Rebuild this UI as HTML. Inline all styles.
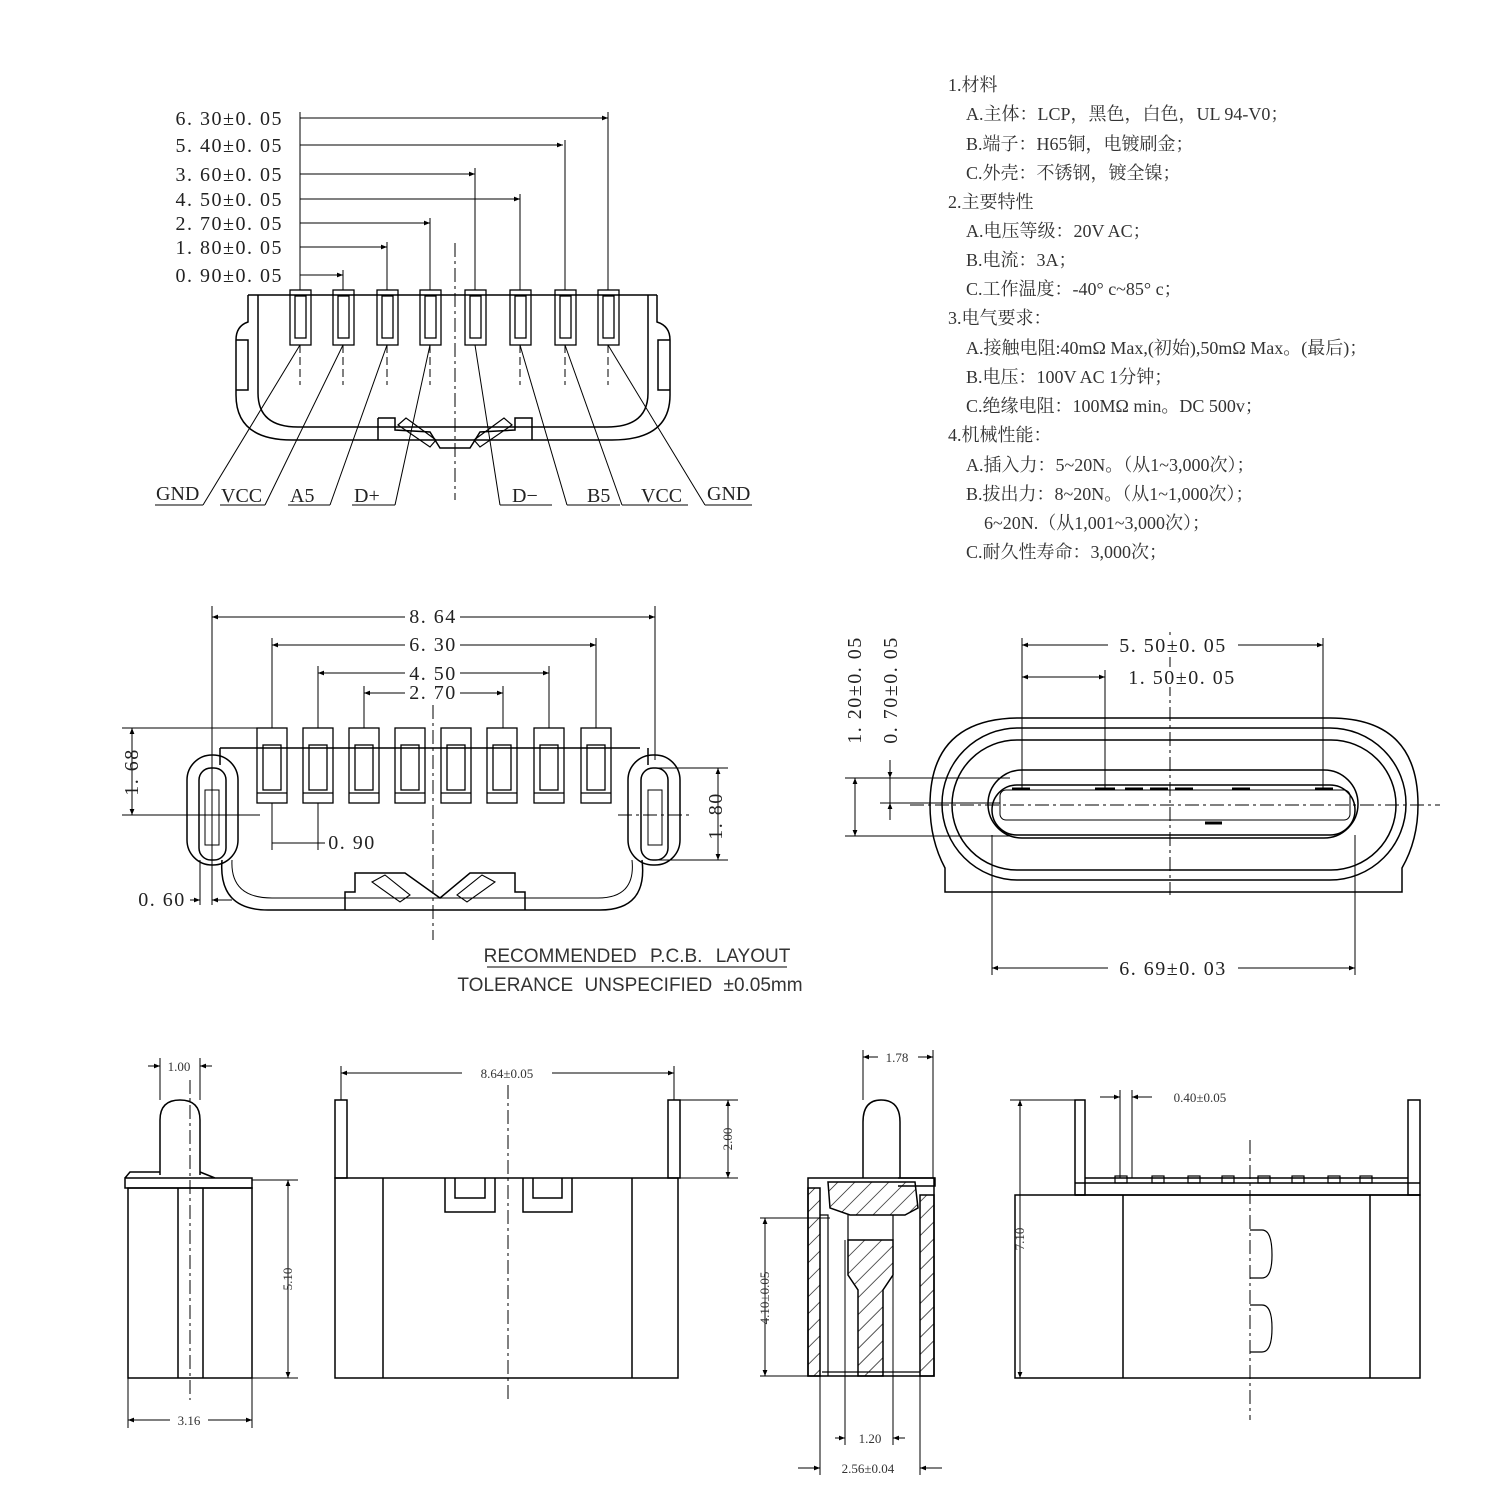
<!DOCTYPE html>
<html><head><meta charset="utf-8"><style>
body{margin:0;background:#fff}
svg{display:block}
.t{font-family:"Liberation Serif","Noto Serif CJK SC",serif;font-size:20px;fill:#222;letter-spacing:1.5px}
.g{font-family:"Liberation Serif",serif;font-size:20px;fill:#222}
.s{font-family:"Liberation Sans","Noto Sans CJK SC",sans-serif}
.cn{font-family:"Liberation Serif","Noto Serif CJK SC",serif;font-size:18px;fill:#333}
.sm{font-family:"Liberation Serif",serif;font-size:13px;fill:#333}
</style></head><body>
<svg width="1500" height="1500" viewBox="0 0 1500 1500" xmlns="http://www.w3.org/2000/svg">
<defs>
<marker id="a" viewBox="0 0 10 10" refX="10" refY="5" markerWidth="9" markerHeight="6" orient="auto-start-reverse"><path d="M0,1 L10,5 L0,9 z" fill="#000"/></marker>
<pattern id="h" width="12" height="12" patternUnits="userSpaceOnUse" patternTransform="rotate(45)"><line x1="0" y1="0" x2="0" y2="12" stroke="#000" stroke-width="1.3"/></pattern>
</defs>
<g fill="none" stroke="#000" stroke-width="1.5">
<!-- TOP LEFT -->
<g stroke-width="1">
<line x1="300" y1="112" x2="300" y2="290"/>
<line x1="300" y1="118" x2="608" y2="118" marker-end="url(#a)"/><line x1="608" y1="112" x2="608" y2="290"/>
<line x1="300" y1="145" x2="563" y2="145" marker-end="url(#a)"/><line x1="565" y1="140" x2="565" y2="290"/>
<line x1="300" y1="174" x2="475" y2="174" marker-end="url(#a)"/><line x1="475" y1="168" x2="475" y2="290"/>
<line x1="300" y1="199" x2="520" y2="199" marker-end="url(#a)"/><line x1="520" y1="194" x2="520" y2="290"/>
<line x1="300" y1="223" x2="430" y2="223" marker-end="url(#a)"/><line x1="430" y1="218" x2="430" y2="290"/>
<line x1="300" y1="247" x2="387" y2="247" marker-end="url(#a)"/><line x1="387" y1="242" x2="387" y2="290"/>
<line x1="300" y1="275" x2="343" y2="275" marker-end="url(#a)"/><line x1="343" y1="270" x2="343" y2="290"/>
<line x1="455" y1="243" x2="455" y2="500" stroke-dasharray="14,4,3,4"/>
</g>
<line x1="248" y1="295" x2="657" y2="295"/>
<path d="M248,295 L248,322 Q236,326 236,340 L236,395 Q236,440 292,440 L612,440 Q670,440 670,395 L670,340 Q670,326 657,322 L657,295"/>
<path d="M258,295 L258,393 Q258,427 298,427 L607,427 Q648,427 648,393 L648,295"/>
<path d="M236,340 L248,340 L248,390 L236,390 M670,340 L658,340 L658,390 L670,390"/>
<path d="M378,418 L378,440 M378,418 L395,418 L395,430 L430,432 L440,448 L470,448 L480,432 L515,430 L515,418 L532,418 L532,440"/>
<path d="M398,425 L406,418 L436,440 L430,447 z M512,425 L504,418 L474,440 L480,447 z" stroke-width="1.2"/>
<g stroke-width="1.3">
<rect x="290" y="290" width="21" height="55"/><rect x="295" y="296" width="11" height="42"/>
<rect x="333" y="290" width="21" height="55"/><rect x="338" y="296" width="11" height="42"/>
<rect x="377" y="290" width="21" height="55"/><rect x="382" y="296" width="11" height="42"/>
<rect x="420" y="290" width="21" height="55"/><rect x="425" y="296" width="11" height="42"/>
<rect x="465" y="290" width="21" height="55"/><rect x="470" y="296" width="11" height="42"/>
<rect x="510" y="290" width="21" height="55"/><rect x="515" y="296" width="11" height="42"/>
<rect x="555" y="290" width="21" height="55"/><rect x="560" y="296" width="11" height="42"/>
<rect x="598" y="290" width="21" height="55"/><rect x="603" y="296" width="11" height="42"/>
</g>
<g stroke-width="1" stroke-dasharray="8,4">
<line x1="300" y1="345" x2="300" y2="385"/><line x1="343" y1="345" x2="343" y2="385"/><line x1="387" y1="345" x2="387" y2="385"/><line x1="430" y1="345" x2="430" y2="385"/><line x1="520" y1="345" x2="520" y2="385"/><line x1="565" y1="345" x2="565" y2="385"/><line x1="608" y1="345" x2="608" y2="385"/>
</g>
<g stroke-width="1">
<line x1="300" y1="345" x2="203" y2="505"/><line x1="343" y1="345" x2="265" y2="505"/><line x1="387" y1="345" x2="330" y2="505"/><line x1="430" y1="345" x2="395" y2="505"/><line x1="475" y1="345" x2="500" y2="505"/><line x1="520" y1="345" x2="567" y2="505"/><line x1="565" y1="345" x2="622" y2="505"/><line x1="608" y1="345" x2="705" y2="505"/>
<line x1="155" y1="505" x2="203" y2="505"/><line x1="220" y1="505" x2="265" y2="505"/><line x1="288" y1="505" x2="330" y2="505"/><line x1="352" y1="505" x2="395" y2="505"/><line x1="500" y1="505" x2="552" y2="505"/><line x1="567" y1="505" x2="620" y2="505"/><line x1="622" y1="505" x2="688" y2="505"/><line x1="705" y1="505" x2="752" y2="505"/>
</g>

<!-- MIDDLE LEFT -->
<g stroke-width="1">
<line x1="212" y1="606" x2="212" y2="905"/><line x1="655" y1="606" x2="655" y2="760"/>
<line x1="212" y1="617" x2="655" y2="617" marker-start="url(#a)" marker-end="url(#a)"/>
<line x1="272" y1="638" x2="272" y2="728"/><line x1="596" y1="638" x2="596" y2="728"/>
<line x1="272" y1="645" x2="596" y2="645" marker-start="url(#a)" marker-end="url(#a)"/>
<line x1="318" y1="666" x2="318" y2="728"/><line x1="549" y1="666" x2="549" y2="728"/>
<line x1="318" y1="673" x2="549" y2="673" marker-start="url(#a)" marker-end="url(#a)"/>
<line x1="364" y1="686" x2="364" y2="728"/><line x1="503" y1="686" x2="503" y2="728"/>
<line x1="364" y1="693" x2="503" y2="693" marker-start="url(#a)" marker-end="url(#a)"/>
<line x1="122" y1="728" x2="272" y2="728"/><line x1="122" y1="815" x2="260" y2="815"/>
<line x1="132" y1="728" x2="132" y2="815" marker-start="url(#a)" marker-end="url(#a)"/>
<line x1="655" y1="768" x2="728" y2="768"/><line x1="655" y1="860" x2="728" y2="860"/>
<line x1="718" y1="768" x2="718" y2="860" marker-start="url(#a)" marker-end="url(#a)"/>
<line x1="272" y1="803" x2="272" y2="850"/><line x1="318" y1="803" x2="318" y2="850"/>
<line x1="272" y1="843" x2="325" y2="843"/>
<line x1="190" y1="900" x2="200" y2="900" marker-end="url(#a)"/><line x1="200" y1="860" x2="200" y2="905"/>
<line x1="232" y1="900" x2="212" y2="900" marker-end="url(#a)"/>
<line x1="433" y1="705" x2="433" y2="940" stroke-dasharray="14,4,3,4"/>
<line x1="180" y1="815" x2="250" y2="815" stroke-dasharray="14,4,3,4"/>
<line x1="618" y1="815" x2="690" y2="815" stroke-dasharray="14,4,3,4"/>
</g>
<path d="M220,748 L640,748 M220,748 L220,765 M648,748 L648,765"/>
<rect x="187" y="755" width="51" height="110" rx="25"/><rect x="199" y="768" width="27" height="92" rx="12"/>
<rect x="628" y="755" width="52" height="110" rx="25"/><rect x="641" y="768" width="27" height="92" rx="12"/>
<rect x="205" y="790" width="14" height="55" stroke-width="1"/><rect x="648" y="790" width="14" height="55" stroke-width="1"/>
<path d="M222,860 Q218,910 268,910 L600,910 Q648,910 642,860"/>
<path d="M232,860 Q230,898 272,898 L598,898 Q636,898 632,860" stroke-width="1"/>
<path d="M345,910 L345,892 L355,892 L355,873 L405,873 L440,898 L470,873 L515,873 L515,892 L525,892 L525,910"/>
<path d="M372,882 L385,875 L410,895 L400,902 z M495,882 L482,875 L457,895 L467,902 z" stroke-width="1.1"/>
<g stroke-width="1.3">
<rect x="257" y="728" width="30" height="75"/><rect x="263" y="745" width="18" height="45"/><line x1="257" y1="793" x2="287" y2="793"/>
<rect x="303" y="728" width="30" height="75"/><rect x="309" y="745" width="18" height="45"/><line x1="303" y1="793" x2="333" y2="793"/>
<rect x="349" y="728" width="30" height="75"/><rect x="355" y="745" width="18" height="45"/><line x1="349" y1="793" x2="379" y2="793"/>
<rect x="395" y="728" width="30" height="75"/><rect x="401" y="745" width="18" height="45"/><line x1="395" y1="793" x2="425" y2="793"/>
<rect x="441" y="728" width="30" height="75"/><rect x="447" y="745" width="18" height="45"/><line x1="441" y1="793" x2="471" y2="793"/>
<rect x="487" y="728" width="30" height="75"/><rect x="493" y="745" width="18" height="45"/><line x1="487" y1="793" x2="517" y2="793"/>
<rect x="534" y="728" width="30" height="75"/><rect x="540" y="745" width="18" height="45"/><line x1="534" y1="793" x2="564" y2="793"/>
<rect x="581" y="728" width="30" height="75"/><rect x="587" y="745" width="18" height="45"/><line x1="581" y1="793" x2="611" y2="793"/>
</g>
<line x1="487" y1="967" x2="787" y2="967" stroke-width="1"/>

<!-- MIDDLE RIGHT -->
<path d="M945,892 L945,868 Q930,840 930,805 Q930,718 1020,718 L1330,718 Q1418,718 1418,805 Q1418,840 1402,868 L1402,892 Z"/>
<rect x="942" y="728" width="464" height="152" rx="76"/>
<rect x="952" y="740" width="444" height="130" rx="65"/>
<rect x="988" y="770" width="370" height="68" rx="34"/>
<rect x="992" y="785" width="363" height="50" rx="25"/>
<rect x="1000" y="790" width="350" height="30" rx="6" stroke-width="1"/>
<g stroke-width="1">
<line x1="1022" y1="638" x2="1022" y2="790"/><line x1="1323" y1="638" x2="1323" y2="790"/>
<line x1="1022" y1="645" x2="1323" y2="645" marker-start="url(#a)" marker-end="url(#a)"/>
<line x1="1105" y1="670" x2="1105" y2="790"/>
<line x1="1022" y1="677" x2="1105" y2="677" marker-start="url(#a)" marker-end="url(#a)"/>
<line x1="992" y1="835" x2="992" y2="975"/><line x1="1355" y1="835" x2="1355" y2="975"/>
<line x1="992" y1="968" x2="1355" y2="968" marker-start="url(#a)" marker-end="url(#a)"/>
<line x1="845" y1="778" x2="1010" y2="778"/><line x1="845" y1="836" x2="1010" y2="836"/>
<line x1="880" y1="803" x2="1000" y2="803"/>
<line x1="855" y1="778" x2="855" y2="836" marker-start="url(#a)" marker-end="url(#a)"/>
<line x1="890" y1="760" x2="890" y2="778" marker-end="url(#a)"/><line x1="890" y1="820" x2="890" y2="803" marker-end="url(#a)"/>
<line x1="890" y1="778" x2="890" y2="803"/>
<line x1="1170" y1="632" x2="1170" y2="895" stroke-dasharray="14,4,3,4"/>
<line x1="910" y1="805" x2="1440" y2="805" stroke-dasharray="14,4,3,4"/>
</g>
<g stroke-width="3"><line x1="1012" y1="789" x2="1030" y2="789"/><line x1="1095" y1="789" x2="1115" y2="789"/><line x1="1125" y1="789" x2="1143" y2="789"/><line x1="1150" y1="789" x2="1168" y2="789"/><line x1="1175" y1="789" x2="1193" y2="789"/><line x1="1232" y1="789" x2="1250" y2="789"/><line x1="1315" y1="789" x2="1333" y2="789"/><line x1="1205" y1="823" x2="1222" y2="823"/></g>

<!-- BOTTOM VIEW1 -->
<path d="M160,1175 L160,1120 Q160,1100 180,1100 Q200,1100 200,1120 L200,1175"/>
<path d="M125,1178 L252,1178 L252,1188 L125,1188 Z M125,1178 L130,1172 L160,1172 M200,1172 L215,1178"/>
<rect x="128" y="1188" width="124" height="190"/>
<line x1="178" y1="1188" x2="178" y2="1378"/><line x1="203" y1="1188" x2="203" y2="1378"/>
<g stroke-width="1">
<line x1="190" y1="1080" x2="190" y2="1400" stroke-dasharray="14,4,3,4"/>
<line x1="160" y1="1058" x2="160" y2="1100"/><line x1="200" y1="1058" x2="200" y2="1100"/>
<line x1="148" y1="1066" x2="160" y2="1066" marker-end="url(#a)"/><line x1="212" y1="1066" x2="200" y2="1066" marker-end="url(#a)"/>
<line x1="128" y1="1378" x2="128" y2="1428"/><line x1="252" y1="1378" x2="252" y2="1428"/>
<line x1="128" y1="1420" x2="252" y2="1420" marker-start="url(#a)" marker-end="url(#a)"/>
<line x1="252" y1="1180" x2="298" y2="1180"/><line x1="252" y1="1378" x2="298" y2="1378"/>
<line x1="288" y1="1180" x2="288" y2="1378" marker-start="url(#a)" marker-end="url(#a)"/>
</g>
<!-- VIEW2 -->
<rect x="335" y="1178" width="343" height="200"/>
<line x1="383" y1="1178" x2="383" y2="1378"/><line x1="632" y1="1178" x2="632" y2="1378"/>
<rect x="335" y="1100" width="12" height="78"/><rect x="668" y="1100" width="12" height="78"/>
<path d="M445,1178 L445,1212 L495,1212 L495,1178 M455,1178 L455,1198 L485,1198 L485,1178 M523,1178 L523,1212 L572,1212 L572,1178 M533,1178 L533,1198 L562,1198 L562,1178"/>
<g stroke-width="1">
<line x1="508" y1="1085" x2="508" y2="1400" stroke-dasharray="14,4,3,4"/>
<line x1="341" y1="1066" x2="341" y2="1100"/><line x1="674" y1="1066" x2="674" y2="1100"/>
<line x1="341" y1="1073" x2="674" y2="1073" marker-start="url(#a)" marker-end="url(#a)"/>
<line x1="680" y1="1100" x2="738" y2="1100"/><line x1="680" y1="1178" x2="738" y2="1178"/>
<line x1="728" y1="1100" x2="728" y2="1178" marker-start="url(#a)" marker-end="url(#a)"/>
</g>
<!-- VIEW3 -->
<path d="M863,1178 L863,1122 Q863,1100 881,1100 Q900,1100 900,1122 L900,1178"/>
<rect x="808" y="1178" width="126" height="198"/>
<path d="M898,1178 L935,1178 L935,1186 L898,1186"/>
<path d="M808,1188 L820,1188 L820,1376 L808,1376 Z" fill="url(#h)"/>
<path d="M920,1195 L934,1195 L934,1376 L920,1376 Z" fill="url(#h)"/>
<path d="M828,1182 L915,1182 L918,1208 L905,1215 L850,1215 L830,1208 Z" fill="url(#h)"/>
<path d="M848,1240 L893,1240 L893,1275 L883,1290 L883,1376 L858,1376 L858,1290 L848,1275 Z" fill="url(#h)"/>
<path d="M820,1215 L828,1215 L828,1376 M848,1215 L848,1240 M893,1215 L893,1240 M822,1372 L920,1372" stroke-width="1.2"/>
<g stroke-width="1">
<line x1="863" y1="1050" x2="863" y2="1100"/><line x1="933" y1="1050" x2="933" y2="1178"/>
<line x1="863" y1="1057" x2="933" y2="1057" marker-start="url(#a)" marker-end="url(#a)"/>
<line x1="760" y1="1218" x2="830" y2="1218"/><line x1="760" y1="1376" x2="808" y2="1376"/>
<line x1="765" y1="1218" x2="765" y2="1376" marker-start="url(#a)" marker-end="url(#a)"/>
<line x1="845" y1="1240" x2="845" y2="1445"/><line x1="893" y1="1240" x2="893" y2="1445"/>
<line x1="835" y1="1438" x2="845" y2="1438" marker-end="url(#a)"/><line x1="905" y1="1438" x2="893" y2="1438" marker-end="url(#a)"/>
<line x1="820" y1="1376" x2="820" y2="1475"/><line x1="920" y1="1376" x2="920" y2="1475"/>
<line x1="798" y1="1468" x2="820" y2="1468" marker-end="url(#a)"/><line x1="942" y1="1468" x2="920" y2="1468" marker-end="url(#a)"/>
</g>
<!-- VIEW4 -->
<rect x="1015" y="1195" width="405" height="183"/>
<line x1="1123" y1="1195" x2="1123" y2="1378"/><line x1="1370" y1="1195" x2="1370" y2="1378"/>
<rect x="1075" y="1100" width="10" height="95"/><rect x="1408" y="1100" width="12" height="95"/>
<path d="M1075,1183 L1420,1183 M1085,1178 L1408,1178 M1075,1195 L1420,1195"/>
<g stroke-width="1.2"><rect x="1115" y="1176" width="12" height="7"/><rect x="1152" y="1176" width="12" height="7"/><rect x="1188" y="1176" width="12" height="7"/><rect x="1222" y="1176" width="12" height="7"/><rect x="1258" y="1176" width="12" height="7"/><rect x="1292" y="1176" width="12" height="7"/><rect x="1328" y="1176" width="12" height="7"/><rect x="1360" y="1176" width="12" height="7"/></g>
<path d="M1250,1230 L1262,1230 Q1272,1230 1272,1255 Q1272,1278 1262,1278 L1250,1278 M1250,1305 L1262,1305 Q1272,1305 1272,1328 Q1272,1352 1262,1352 L1250,1352" stroke-width="1.2"/>
<g stroke-width="1">
<line x1="1250" y1="1140" x2="1250" y2="1420" stroke-dasharray="14,4,3,4"/>
<line x1="1120" y1="1090" x2="1120" y2="1178"/><line x1="1132" y1="1090" x2="1132" y2="1178"/>
<line x1="1100" y1="1097" x2="1120" y2="1097" marker-end="url(#a)"/><line x1="1152" y1="1097" x2="1132" y2="1097" marker-end="url(#a)"/>
<line x1="1010" y1="1100" x2="1075" y2="1100"/>
<line x1="1020" y1="1100" x2="1020" y2="1378" marker-start="url(#a)" marker-end="url(#a)"/>
</g>
</g>

<!-- TEXT -->
<g class="t" text-anchor="end">
<text x="283" y="125">6. 30±0. 05</text>
<text x="283" y="152">5. 40±0. 05</text>
<text x="283" y="181">3. 60±0. 05</text>
<text x="283" y="206">4. 50±0. 05</text>
<text x="283" y="230">2. 70±0. 05</text>
<text x="283" y="254">1. 80±0. 05</text>
<text x="283" y="282">0. 90±0. 05</text>
</g>
<g class="g">
<text x="156" y="500">GND</text><text x="221" y="502">VCC</text><text x="290" y="502">A5</text><text x="354" y="502">D+</text><text x="512" y="502">D−</text><text x="587" y="502">B5</text><text x="641" y="502">VCC</text><text x="707" y="500">GND</text>
</g>
<g class="cn">
<text x="948" y="91">1.材料</text>
<text x="966" y="120">A.主体：LCP，黑色，白色，UL 94-V0；</text>
<text x="966" y="150">B.端子：H65铜，电镀刷金；</text>
<text x="966" y="179">C.外壳：不锈钢，镀全镍；</text>
<text x="948" y="208">2.主要特性</text>
<text x="966" y="237">A.电压等级：20V AC；</text>
<text x="966" y="266">B.电流：3A；</text>
<text x="966" y="295">C.工作温度：-40° c~85° c；</text>
<text x="948" y="324">3.电气要求：</text>
<text x="966" y="354">A.接触电阻:40mΩ Max,(初始),50mΩ Max。(最后)；</text>
<text x="966" y="383">B.电压：100V AC 1分钟；</text>
<text x="966" y="412">C.绝缘电阻：100MΩ min。DC 500v；</text>
<text x="948" y="441">4.机械性能：</text>
<text x="966" y="471">A.插入力：5~20N。（从1~3,000次）；</text>
<text x="966" y="500">B.拔出力：8~20N。（从1~1,000次）；</text>
<text x="984" y="529">6~20N.（从1,001~3,000次）；</text>
<text x="966" y="558">C.耐久性寿命：3,000次；</text>
</g>
<g class="t" text-anchor="middle">
<rect x="405" y="606" width="55" height="20" fill="#fff"/><text x="433" y="623">8. 64</text>
<rect x="405" y="635" width="55" height="20" fill="#fff"/><text x="433" y="651">6. 30</text>
<rect x="405" y="663" width="55" height="20" fill="#fff"/><text x="433" y="680">4. 50</text>
<rect x="405" y="683" width="55" height="20" fill="#fff"/><text x="433" y="699">2. 70</text>
<text x="352" y="849">0. 90</text>
<text x="162" y="906">0. 60</text>
<text transform="translate(138,772) rotate(-90)">1. 68</text>
<text transform="translate(722,816) rotate(-90)">1. 80</text>
<rect x="1108" y="635" width="130" height="20" fill="#fff"/><text x="1173" y="652">5. 50±0. 05</text>
<rect x="1115" y="667" width="135" height="20" fill="#fff"/><text x="1182" y="684">1. 50±0. 05</text>
<rect x="1108" y="958" width="130" height="20" fill="#fff"/><text x="1173" y="975">6. 69±0. 03</text>
<text transform="translate(861,690) rotate(-90)">1. 20±0. 05</text>
<text transform="translate(897,690) rotate(-90)">0. 70±0. 05</text>
</g>
<g class="s" text-anchor="middle" style="font-size:19px;fill:#333">
<text x="637" y="962" style="word-spacing:8px">RECOMMENDED P.C.B. LAYOUT</text>
<text x="630" y="991" style="word-spacing:6px">TOLERANCE UNSPECIFIED ±0.05mm</text>
</g>
<g class="sm" text-anchor="middle">
<rect x="162" y="1059" width="34" height="14" fill="#fff"/><text x="179" y="1071">1.00</text>
<rect x="170" y="1413" width="38" height="14" fill="#fff"/><text x="189" y="1425">3.16</text>
<text transform="translate(292,1279) rotate(-90)">5.10</text>
<rect x="462" y="1066" width="90" height="14" fill="#fff"/><text x="507" y="1078">8.64±0.05</text>
<text transform="translate(732,1139) rotate(-90)">2.00</text>
<rect x="878" y="1050" width="40" height="14" fill="#fff"/><text x="897" y="1062">1.78</text>
<text transform="translate(769,1298) rotate(-90)">4.10±0.05</text>
<rect x="850" y="1431" width="40" height="14" fill="#fff"/><text x="870" y="1443">1.20</text>
<rect x="822" y="1461" width="92" height="14" fill="#fff"/><text x="868" y="1473">2.56±0.04</text>
<text x="1200" y="1102">0.40±0.05</text>
<text transform="translate(1024,1239) rotate(-90)">7.10</text>
</g>
</svg>
</body></html>
